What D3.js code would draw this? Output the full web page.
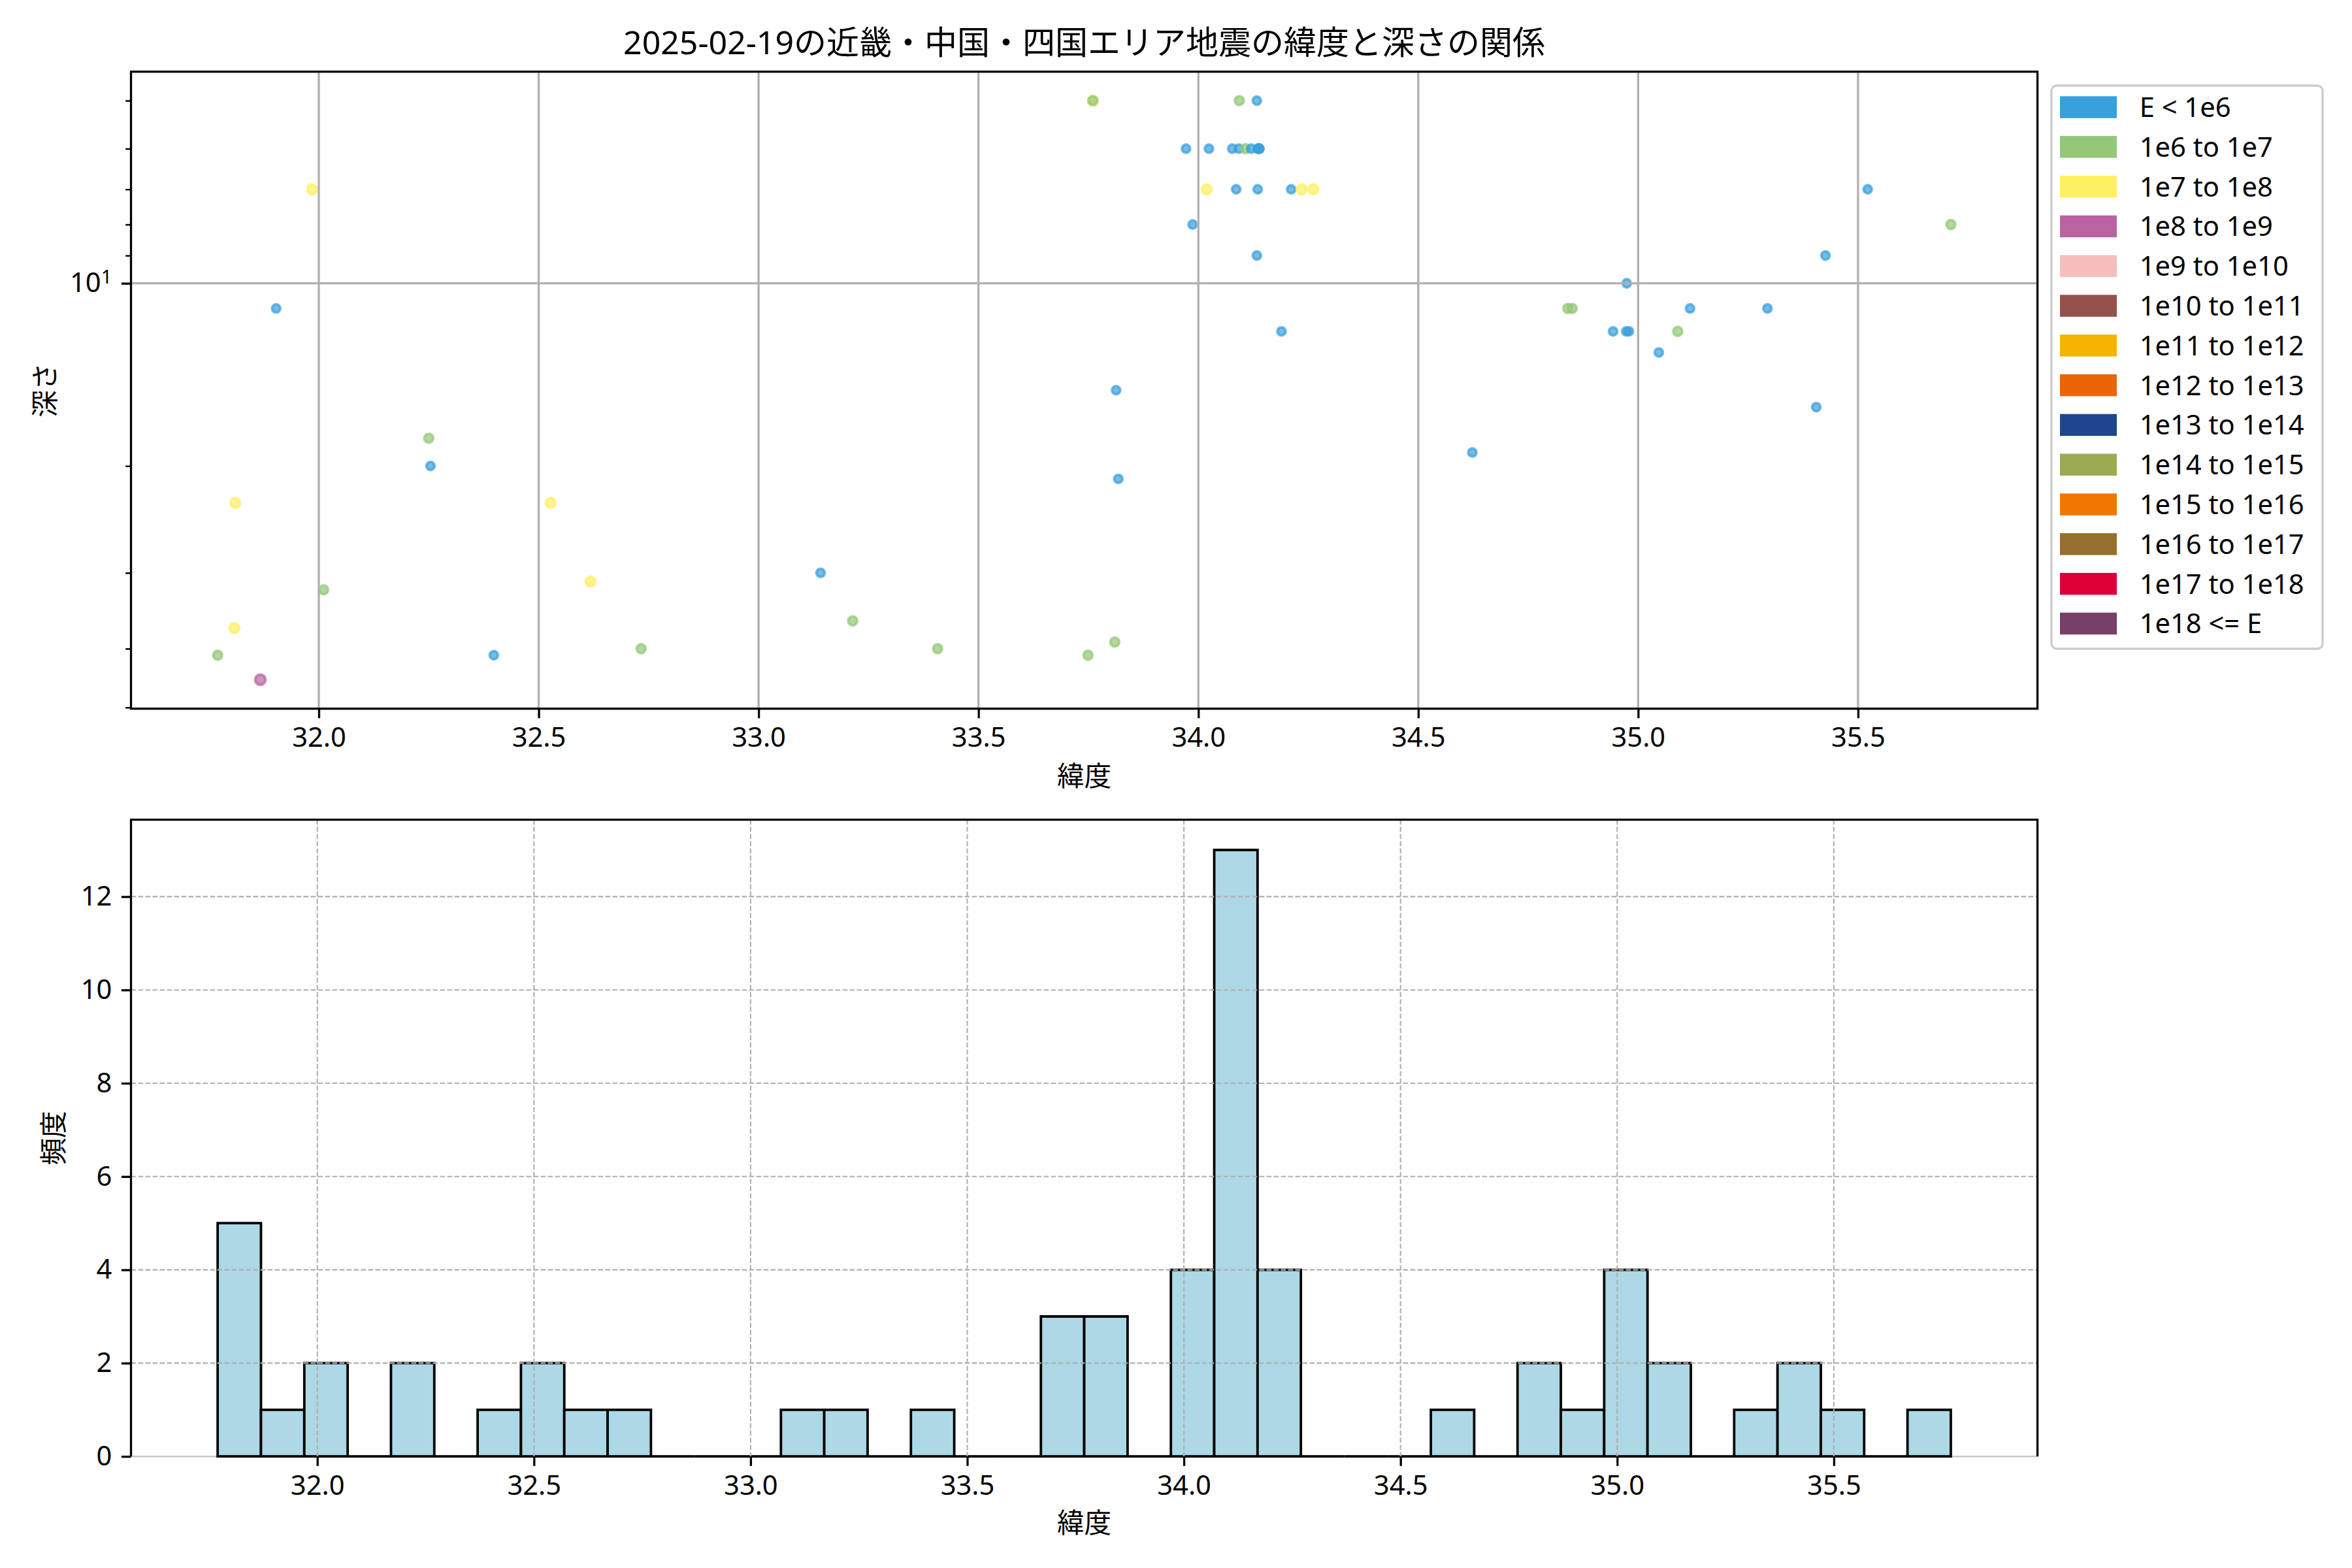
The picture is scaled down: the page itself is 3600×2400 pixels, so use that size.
<!DOCTYPE html>
<html>
<head>
<meta charset="utf-8">
<script src="https://cdn.jsdelivr.net/npm/d3@7"></script>
<style>
  body { margin: 0; background: #ffffff; }
  svg { display: block; }
  text { font-family: "Noto Sans", "Noto Sans CJK JP", sans-serif; fill: #000; }
</style>
</head>
<body>
<svg id="chart" width="3600" height="2400"></svg>
<script>
// ---------------- DATA ----------------
const titleText = "2025-02-19の近畿・中国・四国エリア地震の緯度と深さの関係";
const xLabelText = "緯度";
const depthLabelText = "深さ";
const countLabelText = "頻度";

const energyClasses = [
  "E < 1e6", "1e6 to 1e7", "1e7 to 1e8", "1e8 to 1e9", "1e9 to 1e10",
  "1e10 to 1e11", "1e11 to 1e12", "1e12 to 1e13", "1e13 to 1e14",
  "1e14 to 1e15", "1e15 to 1e16", "1e16 to 1e17", "1e17 to 1e18", "1e18 <= E"
];
const classColors = [
  "#3aa0dc", "#94c878", "#fdf062", "#b964a0", "#f5bebb",
  "#96504b", "#f5b400", "#eb6405", "#1e468c",
  "#9bab50", "#f07800", "#966e2d", "#dc0037", "#784069"
];

// latitude (deg), depth (km; 0 = not drawable on log axis), energy class index
const latitudes = [
  31.985, 31.903, 32.250, 32.254, 31.810, 32.527, 32.618, 32.011, 31.808, 31.770,
  32.398, 32.733, 31.867, 31.830, 32.520,
  33.141, 33.214, 33.407, 33.760, 33.760, 33.749, 33.810, 33.813, 33.818,
  33.972, 33.987, 34.019, 34.024, 34.077, 34.086, 34.092, 34.093, 34.107, 34.120,
  34.133, 34.133, 34.135, 34.135, 34.138, 34.137, 34.139,
  34.189, 34.211, 34.235, 34.261, 34.623,
  34.840, 34.850, 34.943, 34.974, 34.973, 34.979, 35.047, 35.090, 35.118, 35.294,
  35.405, 35.426, 35.522, 35.711
];
const depths = [
  7, 11, 18, 20, 23, 23, 31, 32, 37, 41,
  41, 40, 45, 0, 0,
  30, 36, 40, 5, 5, 41, 39, 15, 21,
  6, 8, 7, 6, 6, 7, 6, 5, 6, 6,
  5, 9, 6, 7, 6, 6, 6,
  12, 7, 7, 7, 19,
  11, 11, 12, 10, 12, 12, 13, 12, 11, 11,
  16, 9, 7, 8
];
const energyClassIndex = [
  2, 0, 1, 0, 2, 2, 2, 1, 2, 1,
  0, 1, 3, 0, 0,
  0, 1, 1, 2, 1, 1, 1, 0, 0,
  0, 0, 2, 0, 0, 0, 0, 1, 1, 0,
  0, 0, 0, 0, 0, 0, 0,
  0, 0, 2, 2, 0,
  1, 1, 0, 0, 0, 0, 0, 1, 0, 0,
  0, 0, 0, 1
];

const xTickValues = [32.0, 32.5, 33.0, 33.5, 34.0, 34.5, 35.0, 35.5];
const depthMajorTicks = [10];
const depthMinorTicks = [5, 6, 7, 8, 9, 20, 30, 40, 50];
const countTicks = [0, 2, 4, 6, 8, 10, 12];
const binWidth = 0.1;
const binCount = 40;

// ---------------- LAYOUT ----------------
const FS = 41.67;
const FONT = '"Noto Sans", "Noto Sans CJK JP", sans-serif';
const L = 200.5, R = 3118.6;
const T1 = 109.7, B1 = 1084.7;
const T2 = 1254.6, B2 = 2229.2;
const tickLen = 14.6, tickPad = 14.6, minorLen = 8.3;
const spineW = 3.3;

const svg = d3.select("#chart");
svg.append("rect").attr("width", 3600).attr("height", 2400).attr("fill", "#fff");

function styleAxis(g, tickWidth) {
  g.attr("font-family", null).attr("font-size", null);
  g.select(".domain").remove();
  g.selectAll(".tick line").attr("stroke", "#000").attr("stroke-width", tickWidth);
  g.selectAll(".tick text").style("font-size", FS + "px").style("font-family", FONT).attr("fill", "#000");
}

// ---------------- TOP: scatter ----------------
const points = latitudes.map((lat, i) => ({ lat, depth: depths[i], cls: energyClassIndex[i] }));
const latMin = d3.min(latitudes), latMax = d3.max(latitudes);
const latPad = 0.05 * (latMax - latMin);
const x1 = d3.scaleLinear().domain([latMin - latPad, latMax + latPad]).range([L, R]);

const visible = points.filter(p => p.depth > 0);
const lgMin = Math.log10(d3.min(visible, p => p.depth));
const lgMax = Math.log10(d3.max(visible, p => p.depth));
const lgPad = 0.05 * (lgMax - lgMin);
const y1 = d3.scaleLog().domain([Math.pow(10, lgMin - lgPad), Math.pow(10, lgMax + lgPad)]).range([T1, B1]);

const markerR = c => 6.3 + 0.55 * c;

const g1 = svg.append("g");
g1.selectAll("circle").data(visible).enter().append("circle")
  .attr("cx", d => x1(d.lat))
  .attr("cy", d => y1(d.depth))
  .attr("r", d => markerR(d.cls))
  .attr("fill", d => classColors[d.cls]).attr("fill-opacity", 0.7)
  .attr("stroke", d => classColors[d.cls]).attr("stroke-opacity", 0.7)
  .attr("stroke-width", 4);

// grid (solid)
g1.selectAll("line.gx").data(xTickValues).enter().append("line").attr("class", "gx")
  .attr("x1", d => x1(d)).attr("x2", d => x1(d)).attr("y1", T1).attr("y2", B1)
  .attr("stroke", "#b0b0b0").attr("stroke-width", 3.3);
g1.selectAll("line.gy").data(depthMajorTicks).enter().append("line").attr("class", "gy")
  .attr("x1", L).attr("x2", R).attr("y1", d => y1(d)).attr("y2", d => y1(d))
  .attr("stroke", "#b0b0b0").attr("stroke-width", 3.3);

// x axis
const ax1 = svg.append("g").attr("transform", `translate(0,${B1})`)
  .call(d3.axisBottom(x1).tickValues(xTickValues).tickFormat(d3.format(".1f")).tickSize(tickLen).tickPadding(tickPad));
styleAxis(ax1, 3.3);

// y axis (log, inverted): major
const ay1 = svg.append("g").attr("transform", `translate(${L},0)`)
  .call(d3.axisLeft(y1).tickValues(depthMajorTicks).tickFormat(() => "").tickSize(tickLen).tickPadding(tickPad));
styleAxis(ay1, 3.3);
ay1.selectAll(".tick text").each(function(d) {
  const t = d3.select(this);
  const exp = Math.round(Math.log10(d));
  t.text(null);
  t.append("tspan").text("10");
  t.append("tspan").attr("dy", "-0.45em").style("font-size", (FS * 0.7) + "px").text(String(exp));
});
// minor ticks
const ay1m = svg.append("g").attr("transform", `translate(${L},0)`)
  .call(d3.axisLeft(y1).tickValues(depthMinorTicks).tickFormat(() => "").tickSize(minorLen));
styleAxis(ay1m, 2.5);

// spines
svg.append("rect").attr("x", L).attr("y", T1).attr("width", R - L).attr("height", B1 - T1)
  .attr("fill", "none").attr("stroke", "#000").attr("stroke-width", spineW);

// labels
svg.append("text").attr("x", (L + R) / 2).attr("y", 83).attr("text-anchor", "middle")
  .style("font-size", "50px").text(titleText);
svg.append("text").attr("x", (L + R) / 2).attr("y", 1203).attr("text-anchor", "middle")
  .style("font-size", FS + "px").text(xLabelText);
svg.append("text").attr("transform", `translate(67,${(T1 + B1) / 2}) rotate(-90)`)
  .attr("text-anchor", "middle").attr("dominant-baseline", "central")
  .style("font-size", FS + "px").text(depthLabelText);

// legend
const lg = svg.append("g");
const legX = 3140, legY = 131, legW = 415, legH = 862, rowY0 = 164, rowStep = 60.8;
lg.append("rect").attr("x", legX).attr("y", legY).attr("width", legW).attr("height", legH)
  .attr("rx", 8).attr("fill", "#fff").attr("fill-opacity", 0.8)
  .attr("stroke", "#cccccc").attr("stroke-width", 3.3);
const rows = lg.selectAll("g.row").data(energyClasses).enter().append("g").attr("class", "row")
  .attr("transform", (d, i) => `translate(0,${rowY0 + i * rowStep})`);
rows.append("rect").attr("x", 3153).attr("y", -16.7).attr("width", 87).attr("height", 33.5)
  .attr("fill", (d, i) => classColors[i]);
rows.append("text").attr("x", 3274.7).attr("y", 15).style("font-size", FS + "px").text(d => d);

// ---------------- BOTTOM: histogram ----------------
const edges = d3.range(binCount + 1).map(k => latMin + k * binWidth);
const bins = d3.bin().domain([edges[0], edges[binCount]]).thresholds(edges.slice(1, binCount))(latitudes);
const hPad = 0.05 * (edges[binCount] - edges[0]);
const x2 = d3.scaleLinear().domain([edges[0] - hPad, edges[binCount] + hPad]).range([L, R]);
const y2 = d3.scaleLinear().domain([0, d3.max(bins, b => b.length) * 1.05]).range([B2, T2]);

const g2 = svg.append("g");
// bottom baseline (light)
g2.append("line").attr("x1", L).attr("x2", R).attr("y1", B2).attr("y2", B2)
  .attr("stroke", "#c8c8c8").attr("stroke-width", 2.5);
// bars
g2.selectAll("path.bar").data(bins).enter().append("path").attr("class", "bar")
  .attr("d", b => `M${x2(b.x0)},${y2(0)}V${y2(b.length)}H${x2(b.x1)}V${y2(0)}Z`)
  .attr("fill", "#add8e6").attr("stroke", "#000").attr("stroke-width", 3.8)
  .attr("stroke-linejoin", "miter");
// dashed grid
g2.selectAll("line.hgx").data(xTickValues).enter().append("line").attr("class", "hgx")
  .attr("x1", d => x2(d)).attr("x2", d => x2(d)).attr("y1", T2).attr("y2", B2)
  .attr("stroke", "#b0b0b0").attr("stroke-width", 2.1).attr("stroke-dasharray", "7.7,3.3");
g2.selectAll("line.hgy").data(countTicks.filter(v => v > 0)).enter().append("line").attr("class", "hgy")
  .attr("x1", L).attr("x2", R).attr("y1", d => y2(d)).attr("y2", d => y2(d))
  .attr("stroke", "#b0b0b0").attr("stroke-width", 2.1).attr("stroke-dasharray", "7.7,3.3");

const ax2 = svg.append("g").attr("transform", `translate(0,${B2})`)
  .call(d3.axisBottom(x2).tickValues(xTickValues).tickFormat(d3.format(".1f")).tickSize(tickLen).tickPadding(tickPad));
styleAxis(ax2, 3.3);
const ay2 = svg.append("g").attr("transform", `translate(${L},0)`)
  .call(d3.axisLeft(y2).tickValues(countTicks).tickFormat(d3.format("d")).tickSize(tickLen).tickPadding(tickPad));
styleAxis(ay2, 3.3);

// spines (left, top, right)
svg.append("path").attr("d", `M${L},${B2}V${T2}H${R}V${B2}`)
  .attr("fill", "none").attr("stroke", "#000").attr("stroke-width", spineW);

svg.append("text").attr("x", (L + R) / 2).attr("y", 2346).attr("text-anchor", "middle")
  .style("font-size", FS + "px").text(xLabelText);
svg.append("text").attr("transform", `translate(80,${(T2 + B2) / 2}) rotate(-90)`)
  .attr("text-anchor", "middle").attr("dominant-baseline", "central")
  .style("font-size", FS + "px").text(countLabelText);
</script>
</body>
</html>
